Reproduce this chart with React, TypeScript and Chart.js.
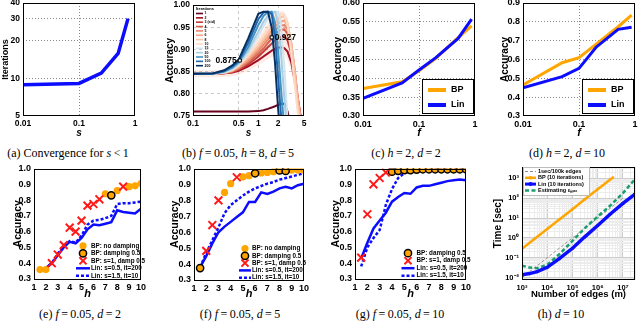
import React, { useEffect, useRef } from "react";
import { Chart, registerables } from "chart.js";

Chart.register(...registerables);

const SANS = "'Liberation Sans', Arial, Helvetica, sans-serif";
const SERIF = "'Liberation Serif', 'DejaVu Serif', 'Times New Roman', serif";
const ORANGE = "#ffa500";
const BLUE = "#0c0cff";
const RED = "#ff1a1a";
const TEAL = "#1a9e6e";

// ---------- (a) Convergence ----------
const aS = [0.01, 0.1, 0.25, 0.5, 0.75];
const aIterations = [8.9, 9.1, 11, 15.8, 30];
const aXTicks = [0.01, 0.1, 1];
const aYTicks = [5, 10, 20, 30, 40];

// ---------- (b) accuracy vs s for several iteration counts ----------
const bS = [0.1, 0.2, 0.3, 0.4, 0.5, 0.7, 1.0, 1.2, 1.4, 1.6, 1.8, 2.0, 2.2, 2.5, 2.8, 3.2, 3.6, 4.0, 4.5, 5.0];
const bIterLabels = ["1", "2", "3 (std)", "4", "5", "6", "8", "10", "15", "20", "50", "100", "200"];
const bColors = ["#67001f", "#a50f26", "#c0393b", "#d6604d", "#e8866b", "#f4a582", "#f9c4a8", "#fddbc7", "#d1e5f0", "#a6cde3", "#4393c3", "#2166ac", "#053061"];
const bAcc1 = [0.76, 0.76, 0.76, 0.76, 0.76, 0.76, 0.761, 0.763, 0.766, 0.769, 0.772, 0.775, 0.777, 0.778, 0.76, 0.72, null, null, null, null];
const bAcc2 = [0.845, 0.845, 0.846, 0.848, 0.852, 0.862, 0.876, 0.884, 0.891, 0.897, 0.901, 0.904, 0.905, 0.903, 0.895, 0.87, 0.83, 0.79, 0.745, 0.7];
const bAcc3 = [0.845, 0.845, 0.846, 0.849, 0.854, 0.866, 0.884, 0.895, 0.905, 0.913, 0.92, 0.925, 0.928, 0.93, 0.92, 0.89, 0.84, 0.79, 0.74, 0.7];
const bAcc4 = [0.845, 0.845, 0.846, 0.85, 0.856, 0.87, 0.89, 0.902, 0.914, 0.924, 0.933, 0.94, 0.944, 0.945, 0.935, 0.905, 0.85, 0.79, 0.74, 0.7];
const bAcc5 = [0.845, 0.845, 0.847, 0.851, 0.858, 0.874, 0.896, 0.91, 0.922, 0.933, 0.942, 0.949, 0.953, 0.955, 0.945, 0.91, 0.855, 0.795, 0.74, 0.7];
const bAcc6 = [0.845, 0.845, 0.847, 0.852, 0.86, 0.878, 0.902, 0.917, 0.93, 0.942, 0.952, 0.958, 0.962, 0.965, 0.955, 0.915, 0.855, 0.79, 0.735, 0.7];
const bAcc8 = [0.845, 0.845, 0.848, 0.853, 0.862, 0.882, 0.908, 0.924, 0.938, 0.95, 0.96, 0.967, 0.972, 0.975, 0.96, 0.91, 0.845, 0.78, 0.73, 0.7];
const bAcc10 = [0.845, 0.845, 0.848, 0.854, 0.864, 0.886, 0.915, 0.932, 0.947, 0.96, 0.969, 0.975, 0.979, 0.978, 0.955, 0.89, 0.82, 0.76, 0.72, 0.7];
const bAcc15 = [0.845, 0.845, 0.848, 0.855, 0.866, 0.892, 0.93, 0.952, 0.968, 0.978, 0.984, 0.985, 0.96, 0.86, 0.74, 0.66, null, null, null, null];
const bAcc20 = [0.845, 0.845, 0.849, 0.857, 0.868, 0.897, 0.94, 0.962, 0.976, 0.983, 0.985, 0.96, 0.9, 0.79, 0.7, null, null, null, null, null];
const bAcc50 = [0.845, 0.845, 0.85, 0.859, 0.871, 0.905, 0.955, 0.975, 0.984, 0.985, 0.96, 0.9, 0.82, 0.72, null, null, null, null, null, null];
const bAcc100 = [0.845, 0.845, 0.851, 0.862, 0.874, 0.915, 0.968, 0.983, 0.985, 0.98, 0.93, 0.84, 0.76, 0.68, null, null, null, null, null, null];
const bAcc200 = [0.845, 0.846, 0.853, 0.864, 0.877, 0.925, 0.98, 0.985, 0.985, 0.95, 0.87, 0.77, 0.7, null, null, null, null, null, null, null];
const bBandHi = [0.853, 0.853, 0.855, 0.86, 0.868, 0.89, 0.925, 0.945, 0.96, 0.97, 0.978, 0.983, 0.986, 0.985, 0.97, 0.93, 0.87, 0.81, 0.76, 0.72];
const bBandLo = [0.837, 0.837, 0.838, 0.84, 0.843, 0.852, 0.865, 0.872, 0.878, 0.883, 0.887, 0.89, 0.89, 0.888, 0.875, 0.85, 0.81, 0.77, 0.73, 0.7];
const bMarkS = [0.52, 1.6];
const bMarkAcc = [0.875, 0.927];
const bMarkLabels = ["0.875", "0.927"];
const bXTicks = [0.1, 0.5, 1, 2, 5];
const bYTicks = [0.75, 0.8, 0.85, 0.9, 0.95, 1.0];

// ---------- (c), (d) accuracy vs f ----------
const cdF = [0.01, 0.05, 0.1, 0.2, 0.5, 0.87];
const cBP = [0.373, 0.391, 0.42, 0.453, 0.508, 0.539];
const cLin = [0.347, 0.388, 0.422, 0.455, 0.506, 0.557];
const dBP = [0.465, 0.583, 0.61, 0.68, 0.774, 0.836];
const dLin = [0.45, 0.509, 0.553, 0.664, 0.76, 0.771];
const cdXTicks = [0.01, 0.1, 1];
const cYTicks = [0.3, 0.35, 0.4, 0.45, 0.5, 0.55, 0.6];
const dYTicks = [0.3, 0.4, 0.5, 0.6, 0.7, 0.8, 0.9];

// ---------- (e), (f), (g) accuracy vs h ----------
const hH = [1.5, 2, 2.5, 3, 3.5, 4, 4.5, 5, 5.5, 6, 6.5, 7, 7.5, 8, 8.5, 9, 9.5, 10];
const eBPh = [1.5, 2, 7, 8, 9, 9.5, 10];
const eBP = [0.36, 0.36, 0.84, 0.86, 0.885, 0.89, 0.905];
const eDampH = [7.5];
const eDamp = [0.83];
const eXh = [2.5, 3, 3.5, 4, 4.5, 5, 5.5, 6, 6.5, 8.5];
const eX = [0.4, 0.455, 0.515, 0.625, 0.6, 0.67, 0.765, 0.775, 0.805, 0.885];
const eLin = [0.355, 0.37, 0.4, 0.45, 0.5, 0.535, 0.525, 0.56, 0.615, 0.645, 0.64, 0.65, 0.66, 0.735, 0.725, 0.72, 0.715, 0.745];
const eLin2 = [0.355, 0.37, 0.4, 0.46, 0.51, 0.54, 0.53, 0.575, 0.645, 0.67, 0.675, 0.685, 0.7, 0.775, 0.78, 0.78, 0.785, 0.79];

const fBPh = [3.5, 4, 5, 5.5, 6.5, 7, 7.5, 9, 9.5, 10];
const fBP = [0.85, 0.905, 0.948, 0.955, 0.972, 0.975, 0.98, 0.99, 0.99, 0.99];
const fDampH = [1.5, 6, 8, 8.5];
const fDamp = [0.375, 0.97, 0.988, 0.985];
const fXh = [2, 2.5, 3, 4.5];
const fX = [0.483, 0.645, 0.8, 0.945];
const fLin = [0.38, 0.45, 0.53, 0.6, 0.635, 0.665, 0.695, 0.725, 0.79, 0.79, 0.85, 0.84, 0.855, 0.875, 0.885, 0.875, 0.895, 0.905];
const fLin2 = [0.38, 0.47, 0.55, 0.63, 0.72, 0.77, 0.8, 0.83, 0.855, 0.875, 0.89, 0.905, 0.915, 0.93, 0.94, 0.95, 0.96, 0.97];

const gDampH = [4, 4.5, 5, 5.5, 6, 6.5, 7, 7.5, 8, 8.5, 9, 9.5, 10];
const gDamp = [0.98, 0.985, 0.99, 0.99, 0.993, 0.995, 0.995, 0.995, 0.995, 0.995, 0.995, 0.995, 0.995];
const gXh = [1.5, 2, 2.5, 3, 3.5];
const gX = [0.435, 0.71, 0.9, 0.94, 0.975];
const gLin = [0.43, 0.53, 0.62, 0.67, 0.72, 0.79, 0.82, 0.845, 0.84, 0.88, 0.89, 0.89, 0.9, 0.91, 0.92, 0.925, 0.93, 0.925];
const gLin2 = [0.38, 0.5, 0.56, 0.61, 0.77, 0.87, 0.94, 0.97, 0.98, 0.985, 0.99, 0.993, 0.995, 0.997, 0.998, 0.998, 0.999, 0.999];

const hXTicksLin = [1, 2, 3, 4, 5, 6, 7, 8, 9, 10];
const hYTicksAcc = [0.3, 0.4, 0.5, 0.6, 0.7, 0.8, 0.9, 1.0];
const lgNoDamp = "BP: no damping";
const lgDamp = "BP: damping 0.5";
const lgX = "BP: s=1, damp 0.5";
const lgLin = "Lin: s=0.5, it=200";
const lgLin2 = "Lin: s=1.5, it=10";

// ---------- (h) timing ----------
const mRef = [1e3, 1e7];
const tRef = [0.01, 100];
const mBP = [1e3, 3e3, 1e4, 3e4, 1e5, 3e5, 1e6, 4e6];
const tBP = [0.28, 0.85, 2.8, 8.5, 28, 85, 280, 1100];
const mLin = [1e3, 2e3, 4e3, 1e4, 3e4, 1e5, 3e5, 1e6, 3e6, 1e7, 3e7];
const tLin = [0.014, 0.016, 0.02, 0.033, 0.09, 0.3, 1.1, 4.2, 15, 55, 160];
const tEst = [0.04, 0.032, 0.03, 0.045, 0.15, 0.7, 3, 12, 40, 180, 900];
const hXMajor = [1e3, 1e4, 1e5, 1e6, 1e7];
const hXLabels = ["10³", "10⁴", "10⁵", "10⁶", "10⁷"];
const hYMajor = [1e-2, 1e-1, 1, 10, 100, 1000];
const hYLabels = ["10⁻²", "10⁻¹", "10⁰", "10¹", "10²", "10³"];

// ---------- helpers ----------
type Box = { l: number; t: number; r: number; b: number };
type AxisSpec = {
  type: "linear" | "logarithmic";
  min: number;
  max: number;
  ticks: number[];
  fmt: (v: number) => string;
  grid?: number[];
  gridColor?: string;
  minorColor?: string;
  dash?: number[];
  title: string;
  titleSize?: number;
  titleItalic?: boolean;
  titlePad?: number;
  tickSize?: number;
  tickPad?: number;
};
type Spec = { box: Box; x: AxisSpec; y: AxisSpec; datasets: any[]; plugins?: any[] };

const CW = 160;
const CH = 140;

function near(a: number, b: number) {
  return Math.abs(a - b) <= Math.max(Math.abs(a), Math.abs(b)) * 1e-6;
}
function pts(xs: number[], ys: (number | null)[]) {
  return xs.map((x, i) => ({ x, y: ys[i] }));
}
function logTicks(min: number, max: number) {
  const out: number[] = [];
  for (let e = Math.floor(Math.log10(min)); e <= Math.ceil(Math.log10(max)); e++) {
    for (let k = 1; k < 10; k++) {
      const v = k * Math.pow(10, e);
      if (v >= min * 0.999 && v <= max * 1.001) out.push(v);
    }
  }
  return out;
}
const fmtStr = (v: number) => String(v);
const fix = (d: number) => (v: number) => v.toFixed(d);
const majorFmt = (majors: number[], labels: string[]) => (v: number) => {
  const i = majors.findIndex((m) => near(m, v));
  return i >= 0 ? labels[i] : "";
};

function makeAxis(a: AxisSpec, horizontal: boolean, size: number) {
  const grid = a.grid || [];
  return {
    type: a.type,
    min: a.min,
    max: a.max,
    bounds: "data",
    afterBuildTicks: (s: any) => {
      s.ticks = a.ticks.map((v) => ({ value: v }));
    },
    afterFit: (s: any) => {
      if (horizontal) s.height = size;
      else s.width = size;
      s.paddingLeft = 0;
      s.paddingRight = 0;
      s.paddingTop = 0;
      s.paddingBottom = 0;
    },
    ticks: {
      autoSkip: false,
      maxRotation: 0,
      minRotation: 0,
      padding: a.tickPad ?? 3,
      color: "#000",
      font: { family: SANS, size: a.tickSize ?? 9, weight: "bold" },
      callback: (v: any) => a.fmt(Number(v)),
    },
    grid: {
      drawTicks: false,
      lineWidth: 1,
      color: (c: any) => {
        const v = c.tick ? c.tick.value : NaN;
        if (grid.some((g) => near(g, v))) return a.gridColor || "#aaa";
        return a.minorColor || "rgba(0,0,0,0)";
      },
    },
    border: { display: false, dash: a.dash || [] },
    title: {
      display: true,
      text: a.title,
      color: "#000",
      padding: horizontal ? { top: 0, bottom: a.titlePad ?? 0 } : { top: a.titlePad ?? 0, bottom: 0 },
      font: { family: SANS, size: a.titleSize ?? 10, weight: "bold", style: a.titleItalic ? "italic" : "normal" },
    },
  };
}

const framePlugin = {
  id: "frame",
  afterDatasetsDraw(chart: any) {
    const { ctx, chartArea: a } = chart;
    ctx.save();
    ctx.setLineDash([]);
    ctx.strokeStyle = "#000";
    ctx.lineWidth = 1;
    ctx.strokeRect(Math.round(a.left) + 0.5, Math.round(a.top) + 0.5, Math.round(a.right - a.left) - 1, Math.round(a.bottom - a.top) - 1);
    ctx.restore();
  },
};

function marker(ctx: any, style: string, x: number, y: number, r: number, fill: string, stroke: string, lw: number) {
  ctx.save();
  ctx.setLineDash([]);
  ctx.beginPath();
  if (style === "crossRot") {
    const d = r * 0.707;
    ctx.moveTo(x - d, y - d);
    ctx.lineTo(x + d, y + d);
    ctx.moveTo(x + d, y - d);
    ctx.lineTo(x - d, y + d);
    ctx.strokeStyle = stroke;
    ctx.lineWidth = lw;
    ctx.stroke();
  } else if (style === "rect") {
    ctx.rect(x - r, y - r, 2 * r, 2 * r);
    if (fill) {
      ctx.fillStyle = fill;
      ctx.fill();
    }
    ctx.strokeStyle = stroke;
    ctx.lineWidth = lw;
    ctx.stroke();
  } else {
    ctx.arc(x, y, r, 0, Math.PI * 2);
    if (fill) {
      ctx.fillStyle = fill;
      ctx.fill();
    }
    if (lw > 0) {
      ctx.strokeStyle = stroke;
      ctx.lineWidth = lw;
      ctx.stroke();
    }
  }
  ctx.restore();
}

type LegendSpec = {
  box?: [number, number, number, number];
  frame?: string;
  bg?: string;
  symX: number;
  symLen: number;
  textX: number;
  row0: number;
  rowH: number;
  font: string;
  items: number[];
  title?: { text: string; x: number; y: number; font: string };
};

function legendPlugin(spec: LegendSpec) {
  return {
    id: "boxLegend",
    afterDraw(chart: any) {
      const ctx = chart.ctx;
      const { left, top } = chart.chartArea;
      ctx.save();
      if (spec.box) {
        const [bx, by, bw, bh] = spec.box;
        if (spec.bg) {
          ctx.fillStyle = spec.bg;
          ctx.fillRect(left + bx, top + by, bw, bh);
        }
        if (spec.frame) {
          ctx.strokeStyle = spec.frame;
          ctx.lineWidth = 1;
          ctx.setLineDash([]);
          ctx.strokeRect(Math.round(left + bx) + 0.5, Math.round(top + by) + 0.5, bw, bh);
        }
      }
      if (spec.title) {
        ctx.fillStyle = "#000";
        ctx.font = spec.title.font;
        ctx.textAlign = "left";
        ctx.textBaseline = "middle";
        ctx.fillText(spec.title.text, left + spec.title.x, top + spec.title.y);
      }
      spec.items.forEach((di, i) => {
        const ds = chart.data.datasets[di];
        const y = top + spec.row0 + i * spec.rowH;
        const x0 = left + spec.symX;
        if (ds.showLine !== false) {
          ctx.save();
          ctx.strokeStyle = ds.borderColor;
          ctx.lineWidth = ds.lgWidth ?? ds.borderWidth ?? 1;
          ctx.setLineDash(ds.lgDash ?? ds.borderDash ?? []);
          ctx.beginPath();
          ctx.moveTo(x0, y);
          ctx.lineTo(x0 + spec.symLen, y);
          ctx.stroke();
          ctx.restore();
        }
        const r = ds.lgRadius ?? ds.pointRadius ?? 0;
        if (r > 0) {
          marker(ctx, ds.pointStyle || "circle", x0 + spec.symLen / 2, y, r, ds.pointBackgroundColor, ds.pointBorderColor, ds.pointBorderWidth ?? 0);
        }
        ctx.fillStyle = "#000";
        ctx.font = spec.font;
        ctx.textAlign = "left";
        ctx.textBaseline = "middle";
        ctx.fillText(ds.label, left + spec.textX, y);
      });
      ctx.restore();
    },
  };
}

// ---------- chart specs ----------
function specA(): Spec {
  return {
    box: { l: 23, t: 3, r: 135, b: 116 },
    x: { type: "logarithmic", min: 0.01, max: 1, ticks: aXTicks, fmt: fmtStr, grid: [0.1], gridColor: "#888", dash: [1, 2], title: "s", titleItalic: true, titlePad: 1, tickSize: 8.5 },
    y: { type: "logarithmic", min: 5, max: 40, ticks: aYTicks, fmt: fmtStr, grid: [10, 20, 30], gridColor: "#888", dash: [1, 2], title: "Iterations", titleSize: 9, titlePad: 0, tickSize: 8.5 },
    datasets: [{ label: "Iterations", data: pts(aS, aIterations), borderColor: BLUE, borderWidth: 3.5, pointRadius: 0 }],
  };
}

function specB(): Spec {
  const series = [bAcc1, bAcc2, bAcc3, bAcc4, bAcc5, bAcc6, bAcc8, bAcc10, bAcc15, bAcc20, bAcc50, bAcc100, bAcc200];
  const ds: any[] = [
    { label: "lo", data: pts(bS, bBandLo), borderWidth: 1, borderColor: "rgba(0,0,0,0)", pointRadius: 0, fill: false, order: 50 },
    { label: "hi", data: pts(bS, bBandHi), borderWidth: 1, borderColor: "rgba(0,0,0,0)", pointRadius: 0, fill: "-1", backgroundColor: "rgba(244,165,130,0.22)", order: 50 },
  ];
  series.forEach((s, i) =>
    ds.push({ label: bIterLabels[i], data: pts(bS, s), borderColor: bColors[i], borderWidth: 2, pointRadius: 0, order: series.length - i + 1, lgWidth: 1.6 })
  );
  ds.push({ label: "marks", data: pts(bMarkS, bMarkAcc), showLine: false, pointStyle: "rect", pointRadius: 2.2, pointBackgroundColor: "#fff", pointBorderColor: "#000", pointBorderWidth: 1, order: 0 });
  const annot = {
    id: "annot",
    afterDatasetsDraw(chart: any) {
      const ctx = chart.ctx;
      const xs = chart.scales.x;
      const ys = chart.scales.y;
      ctx.save();
      ctx.font = `bold 8.5px ${SANS}`;
      ctx.fillStyle = "#000";
      ctx.textBaseline = "middle";
      bMarkS.forEach((s, i) => {
        const px = xs.getPixelForValue(s);
        const py = ys.getPixelForValue(bMarkAcc[i]);
        ctx.textAlign = i === 0 ? "right" : "left";
        ctx.fillText(bMarkLabels[i], px + (i === 0 ? -3 : 3), py);
      });
      ctx.restore();
    },
  };
  return {
    box: { l: 33, t: 5, r: 144, b: 116 },
    x: { type: "logarithmic", min: 0.1, max: 5, ticks: bXTicks, fmt: fmtStr, grid: [0.5, 1, 2], gridColor: "#c8c8c8", dash: [3, 3], title: "s", titleItalic: true, titlePad: 1, tickSize: 8.5 },
    y: { type: "linear", min: 0.75, max: 1.0, ticks: bYTicks, fmt: fix(2), grid: [0.8, 0.85, 0.9, 0.95], gridColor: "#c8c8c8", dash: [3, 3], title: "Accuracy", titlePad: 4, tickSize: 8.5 },
    datasets: ds,
    plugins: [
      annot,
      legendPlugin({
        symX: 3,
        symLen: 7,
        textX: 11.5,
        row0: 8.5,
        rowH: 4.35,
        font: `bold 3.5px ${SANS}`,
        items: series.map((_, i) => i + 2),
        title: { text: "Iterations", x: 3, y: 3.5, font: `bold 4px ${SANS}` },
      }),
    ],
  };
}

function specCD(bp: number[], lin: number[], yTicks: number[], yDigits: number, yTitlePad: number): Spec {
  const inner = yTicks.slice(1, -1);
  return {
    box: { l: 43, t: 3, r: 155, b: 116 },
    x: { type: "logarithmic", min: 0.01, max: 1, ticks: cdXTicks, fmt: fmtStr, grid: [0.1], gridColor: "#888", dash: [1, 2], title: "f", titleItalic: true, titleSize: 11, titlePad: 0 },
    y: { type: "linear", min: yTicks[0], max: yTicks[yTicks.length - 1], ticks: yTicks, fmt: fix(yDigits), grid: inner, gridColor: "#888", dash: [1, 2], title: "Accuracy", titlePad: yTitlePad },
    datasets: [
      { label: "BP", data: pts(cdF, bp), borderColor: ORANGE, borderWidth: 3, pointRadius: 0, order: 2, lgWidth: 4 },
      { label: "Lin", data: pts(cdF, lin), borderColor: BLUE, borderWidth: 3, pointRadius: 0, order: 1, lgWidth: 4 },
    ],
    plugins: [
      legendPlugin({ box: [59, 76, 51, 34], frame: "#000", bg: "#fff", symX: 65, symLen: 18, textX: 88, row0: 87, rowH: 15, font: `bold 9px ${SANS}`, items: [0, 1] }),
    ],
  };
}

function specAcc(
  box: Box,
  bpH: number[] | null,
  bp: number[] | null,
  dampH: number[],
  damp: number[],
  xH: number[],
  xAcc: number[],
  lin: number[],
  lin2: number[],
  yTitlePad: number,
  lg: { symX: number; symLen: number; textX: number; row0: number; rowH: number }
): Spec {
  const ds: any[] = [];
  if (bpH && bp) {
    ds.push({ label: lgNoDamp, data: pts(bpH, bp), showLine: false, pointStyle: "circle", pointRadius: 3.6, pointBackgroundColor: ORANGE, pointBorderColor: ORANGE, pointBorderWidth: 0, order: 3 });
  }
  ds.push({ label: lgDamp, data: pts(dampH, damp), showLine: false, pointStyle: "circle", pointRadius: 3.6, pointBackgroundColor: ORANGE, pointBorderColor: "#000", pointBorderWidth: 1.5, order: 2 });
  ds.push({ label: lgX, data: pts(xH, xAcc), showLine: false, pointStyle: "crossRot", pointRadius: 5.5, pointBackgroundColor: RED, pointBorderColor: RED, pointBorderWidth: 2, order: 1, lgRadius: 5 });
  ds.push({ label: lgLin, data: pts(hH, lin), borderColor: BLUE, borderWidth: 2.5, pointRadius: 0, order: 4 });
  ds.push({ label: lgLin2, data: pts(hH, lin2), borderColor: BLUE, borderWidth: 2.5, borderDash: [3, 2], pointRadius: 0, order: 5 });
  return {
    box,
    x: { type: "linear", min: 1, max: 10, ticks: hXTicksLin, fmt: fmtStr, title: "h", titleItalic: true, titleSize: 11, titlePad: 0 },
    y: { type: "linear", min: 0.3, max: 1.0, ticks: hYTicksAcc, fmt: fix(1), title: "Accuracy", titleSize: 10.5, titlePad: yTitlePad },
    datasets: ds,
    plugins: [legendPlugin({ ...lg, font: `bold 6.3px ${SANS}`, items: ds.map((_, i) => i) })],
  };
}

function specH(): Spec {
  const xMin = 1e3;
  const xMax = 3e7;
  const yMin = 0.0076;
  const yMax = 3700;
  return {
    box: { l: 42, t: 6, r: 155, b: 119 },
    x: { type: "logarithmic", min: xMin, max: xMax, ticks: logTicks(xMin, xMax), fmt: majorFmt(hXMajor, hXLabels), grid: hXMajor, gridColor: "#cdcdcd", minorColor: "#ececec", title: "Number of edges (m)", titleSize: 9.5, titlePad: 1, tickSize: 7.5 },
    y: { type: "logarithmic", min: yMin, max: yMax, ticks: logTicks(yMin, yMax), fmt: majorFmt(hYMajor, hYLabels), grid: hYMajor, gridColor: "#cdcdcd", minorColor: "#ececec", title: "Time [sec]", titleSize: 10, titlePad: 12, tickSize: 7.5 },
    datasets: [
      { label: "1sec/100k edges", data: pts(mRef, tRef), borderColor: "#8a8a8a", borderWidth: 0.9, borderDash: [3, 2], pointRadius: 0, order: 4, lgWidth: 1 },
      { label: "BP (10 iterations)", data: pts(mBP, tBP), borderColor: ORANGE, borderWidth: 2.5, pointRadius: 1.3, pointBackgroundColor: ORANGE, pointBorderColor: ORANGE, pointBorderWidth: 0, order: 3, lgWidth: 2.5, lgRadius: 1.8 },
      { label: "Lin (10 iterations)", data: pts(mLin, tLin), borderColor: BLUE, borderWidth: 3.5, pointRadius: 1.6, pointBackgroundColor: BLUE, pointBorderColor: BLUE, pointBorderWidth: 0, order: 1, lgWidth: 3, lgRadius: 2 },
      { label: "Estimating εₘₐₓ", data: pts(mLin, tEst), borderColor: TEAL, borderWidth: 2.5, borderDash: [4, 2.5], pointRadius: 0, order: 2, lgWidth: 2.5 },
    ],
    plugins: [
      legendPlugin({ box: [1, 0, 66, 28], frame: "#bdbdbd", bg: "rgba(255,255,255,0.9)", symX: 3, symLen: 11, textX: 16, row0: 4.5, rowH: 6.3, font: `bold 5.5px ${SANS}`, items: [0, 1, 2, 3] }),
    ],
  };
}

const SPECS: Record<string, () => Spec> = {
  a: specA,
  b: specB,
  c: () => specCD(cBP, cLin, cYTicks, 2, 12),
  d: () => specCD(dBP, dLin, dYTicks, 1, 19),
  e: () =>
    specAcc({ l: 34, t: 6, r: 141, b: 118 }, eBPh, eBP, eDampH, eDamp, eXh, eX, eLin, eLin2, 12, { symX: 42, symLen: 14, textX: 57, row0: 77.3, rowH: 7.5 }),
  f: () =>
    specAcc({ l: 34, t: 5, r: 144, b: 119 }, fBPh, fBP, fDampH, fDamp, fXh, fX, fLin, fLin2, 9, { symX: 45, symLen: 12, textX: 58, row0: 80, rowH: 7.3 }),
  g: () =>
    specAcc({ l: 35, t: 6, r: 146, b: 118 }, null, null, gDampH, gDamp, gXh, gX, gLin, gLin2, 10, { symX: 46.5, symLen: 13, textX: 61.5, row0: 84.7, rowH: 7.5 }),
  h: specH,
};

function ChartCell({ id, left, top }: { id: string; left: number; top: number }) {
  const ref = useRef<HTMLCanvasElement>(null);
  useEffect(() => {
    const spec = SPECS[id]();
    const chart = new Chart(ref.current as HTMLCanvasElement, {
      type: "line",
      data: { datasets: spec.datasets },
      options: {
        animation: false,
        responsive: false,
        maintainAspectRatio: false,
        devicePixelRatio: 1,
        events: [],
        layout: { padding: { left: 0, top: spec.box.t, right: CW - spec.box.r, bottom: 0 } },
        plugins: {
          legend: { display: false },
          tooltip: { enabled: false },
          filler: { drawTime: "beforeDatasetsDraw" },
        },
        elements: { line: { tension: 0 }, point: { radius: 0 } },
        scales: {
          x: makeAxis(spec.x, true, CH - spec.box.b) as any,
          y: makeAxis(spec.y, false, spec.box.l) as any,
        },
      } as any,
      plugins: [framePlugin, ...(spec.plugins || [])],
    });
    return () => chart.destroy();
  }, [id]);
  return <canvas ref={ref} width={CW} height={CH} style={{ position: "absolute", left, top, width: CW, height: CH }} />;
}

function Cap({ cx, cy, children }: { cx: number; cy: number; children: React.ReactNode }) {
  return (
    <div
      style={{
        position: "absolute",
        left: cx - 100,
        top: cy - 8,
        width: 200,
        height: 16,
        lineHeight: "16px",
        textAlign: "center",
        whiteSpace: "nowrap",
        fontFamily: SERIF,
        fontSize: 12,
        color: "#000",
      }}
    >
      {children}
    </div>
  );
}

const T = "\u2009";

export default function App() {
  return (
    <div style={{ position: "fixed", left: 0, top: 0, width: 640, height: 322, background: "#fff", overflow: "hidden" }}>
      <ChartCell id="a" left={0} top={0} />
      <ChartCell id="b" left={160} top={0} />
      <ChartCell id="c" left={320} top={0} />
      <ChartCell id="d" left={480} top={0} />
      <ChartCell id="e" left={0} top={161} />
      <ChartCell id="f" left={160} top={161} />
      <ChartCell id="g" left={320} top={161} />
      <ChartCell id="h" left={480} top={161} />
      <Cap cx={68} cy={153}>
        (a) Convergence for <i>s</i>{T}&lt;{T}1
      </Cap>
      <Cap cx={238} cy={153}>
        (b) <i>f</i>{T}={T}0.05, <i>h</i>{T}={T}8, <i>d</i>{T}={T}5
      </Cap>
      <Cap cx={406} cy={153}>
        (c) <i>h</i>{T}={T}2, <i>d</i>{T}={T}2
      </Cap>
      <Cap cx={567} cy={153}>
        (d) <i>h</i>{T}={T}2, <i>d</i>{T}={T}10
      </Cap>
      <Cap cx={80} cy={314}>
        (e) <i>f</i>{T}={T}0.05, <i>d</i>{T}={T}2
      </Cap>
      <Cap cx={240} cy={314}>
        (f) <i>f</i>{T}={T}0.05, <i>d</i>{T}={T}5
      </Cap>
      <Cap cx={400} cy={314}>
        (g) <i>f</i>{T}={T}0.05, <i>d</i>{T}={T}10
      </Cap>
      <Cap cx={561} cy={314}>
        (h) <i>d</i>{T}={T}10
      </Cap>
    </div>
  );
}
